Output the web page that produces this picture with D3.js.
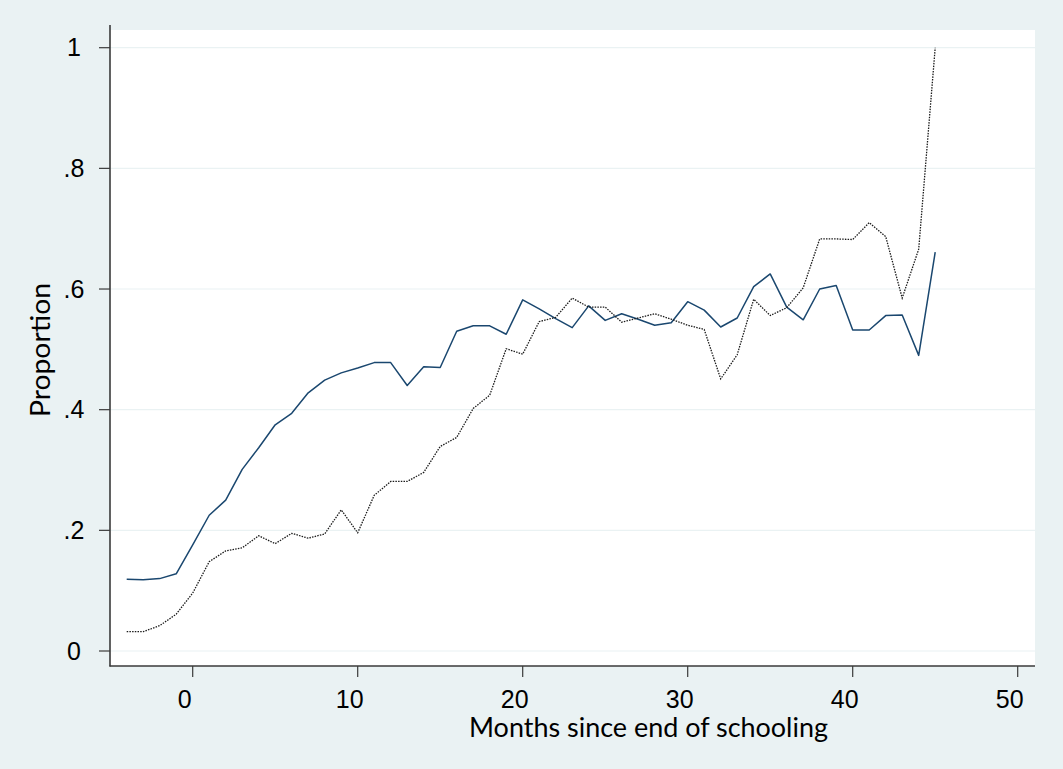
<!DOCTYPE html>
<html>
<head>
<meta charset="utf-8">
<script src="https://cdn.jsdelivr.net/npm/d3@7"></script>
<style>
  html, body { margin: 0; padding: 0; background: #EAF2F3; }
  svg { display: block; }
</style>
</head>
<body>
<svg id="chart" width="1063" height="769"></svg>
<script>
// ---- data ----
const months = [-4,-3,-2,-1,0,1,2,3,4,5,6,7,8,9,10,11,12,13,14,15,16,17,18,19,20,
  21,22,23,24,25,26,27,28,29,30,31,32,33,34,35,36,37,38,39,40,41,42,43,44,45];
const seriesSolid = [0.119,0.118,0.120,0.128,0.176,0.225,0.250,0.301,0.337,0.375,
  0.394,0.428,0.449,0.461,0.469,0.478,0.478,0.440,0.471,0.470,0.530,0.539,0.539,
  0.525,0.582,0.567,0.551,0.536,0.572,0.548,0.559,0.550,0.540,0.544,0.579,0.565,
  0.537,0.552,0.604,0.625,0.570,0.549,0.600,0.606,0.532,0.532,0.556,0.557,0.490,0.661];
const seriesDotted = [0.032,0.032,0.042,0.061,0.096,0.148,0.166,0.171,0.191,0.178,
  0.195,0.187,0.194,0.234,0.196,0.258,0.281,0.281,0.296,0.339,0.354,0.402,0.424,
  0.501,0.492,0.546,0.553,0.585,0.570,0.570,0.545,0.552,0.559,0.550,0.540,0.533,
  0.451,0.491,0.583,0.556,0.569,0.602,0.683,0.683,0.682,0.710,0.687,0.585,0.666,1.000];
const xTicks = [0,10,20,30,40,50];
const yTicks = [0,0.2,0.4,0.6,0.8,1];
const yTickLabels = ["0",".2",".4",".6",".8","1"];
const xTitle = "Months since end of schooling";
const yTitle = "Proportion";

// ---- layout ----
const svg = d3.select("#chart");
const plot = { left: 110, right: 1035, top: 30, bottom: 666 };
const x = d3.scaleLinear().domain([0, 50]).range([192.7, 1017.7]);
const y = d3.scaleLinear().domain([0, 1]).range([651, 47.7]);

svg.append("rect").attr("width", 1063).attr("height", 769).attr("fill", "#EAF2F3");
svg.append("rect")
  .attr("x", plot.left).attr("y", plot.top)
  .attr("width", plot.right - plot.left).attr("height", plot.bottom - plot.top)
  .attr("fill", "#ffffff");

// grid
svg.append("g").selectAll("line").data(yTicks).join("line")
  .attr("x1", plot.left).attr("x2", plot.right)
  .attr("y1", d => y(d)).attr("y2", d => y(d))
  .attr("stroke", "#EAF2F3").attr("stroke-width", 1.2);

// lines
const lineGen = d3.line().x((d, i) => x(months[i])).y(d => y(d));
svg.append("path").datum(seriesSolid)
  .attr("d", lineGen).attr("fill", "none")
  .attr("stroke", "#1a476f").attr("stroke-width", 1.5).attr("stroke-linejoin", "round");
svg.append("path").datum(seriesDotted)
  .attr("d", lineGen).attr("fill", "none")
  .attr("stroke", "#1b1b1b").attr("stroke-width", 1.3)
  .attr("stroke-dasharray", "1.5,1.2");

// axes lines
svg.append("line").attr("x1", plot.left).attr("x2", plot.left)
  .attr("y1", 25).attr("y2", plot.bottom + 0.5)
  .attr("stroke", "#3a3a3a").attr("stroke-width", 1.6);
svg.append("line").attr("x1", plot.left - 0.5).attr("x2", plot.right)
  .attr("y1", plot.bottom).attr("y2", plot.bottom)
  .attr("stroke", "#3a3a3a").attr("stroke-width", 1.6);

// y ticks
const yg = svg.append("g");
yg.selectAll("line").data(yTicks).join("line")
  .attr("x1", plot.left - 11).attr("x2", plot.left)
  .attr("y1", d => y(d)).attr("y2", d => y(d))
  .attr("stroke", "#3a3a3a").attr("stroke-width", 1.2);
yg.selectAll("text").data(yTicks).join("text")
  .attr("x", 74).attr("y", d => y(d))
  .attr("dy", "0.35em")
  .attr("text-anchor", "middle")
  .attr("font-family", "'Liberation Sans', Arial, sans-serif")
  .attr("font-size", 25).attr("fill", "#000")
  .text((d, i) => yTickLabels[i]);

// x ticks
const xg = svg.append("g");
xg.selectAll("line").data(xTicks).join("line")
  .attr("x1", d => x(d)).attr("x2", d => x(d))
  .attr("y1", plot.bottom).attr("y2", plot.bottom + 11)
  .attr("stroke", "#3a3a3a").attr("stroke-width", 1.2);
xg.selectAll("text").data(xTicks).join("text")
  .attr("x", d => x(d) - 8).attr("y", 708)
  .attr("text-anchor", "middle")
  .attr("font-family", "'Liberation Sans', Arial, sans-serif")
  .attr("font-size", 25).attr("fill", "#000")
  .text(d => d);

// titles
svg.append("text")
  .attr("x", 469).attr("y", 737)
  .attr("font-family", "Lato, 'Open Sans', sans-serif")
  .attr("font-size", 26).attr("fill", "#000")
  .attr("textLength", 359).attr("lengthAdjust", "spacingAndGlyphs")
  .text(xTitle);
svg.append("text")
  .attr("transform", "translate(50,417) rotate(-90)")
  .attr("font-family", "Lato, 'Open Sans', sans-serif")
  .attr("font-size", 26).attr("fill", "#000")
  .attr("textLength", 134).attr("lengthAdjust", "spacingAndGlyphs")
  .text(yTitle);
</script>
</body>
</html>
